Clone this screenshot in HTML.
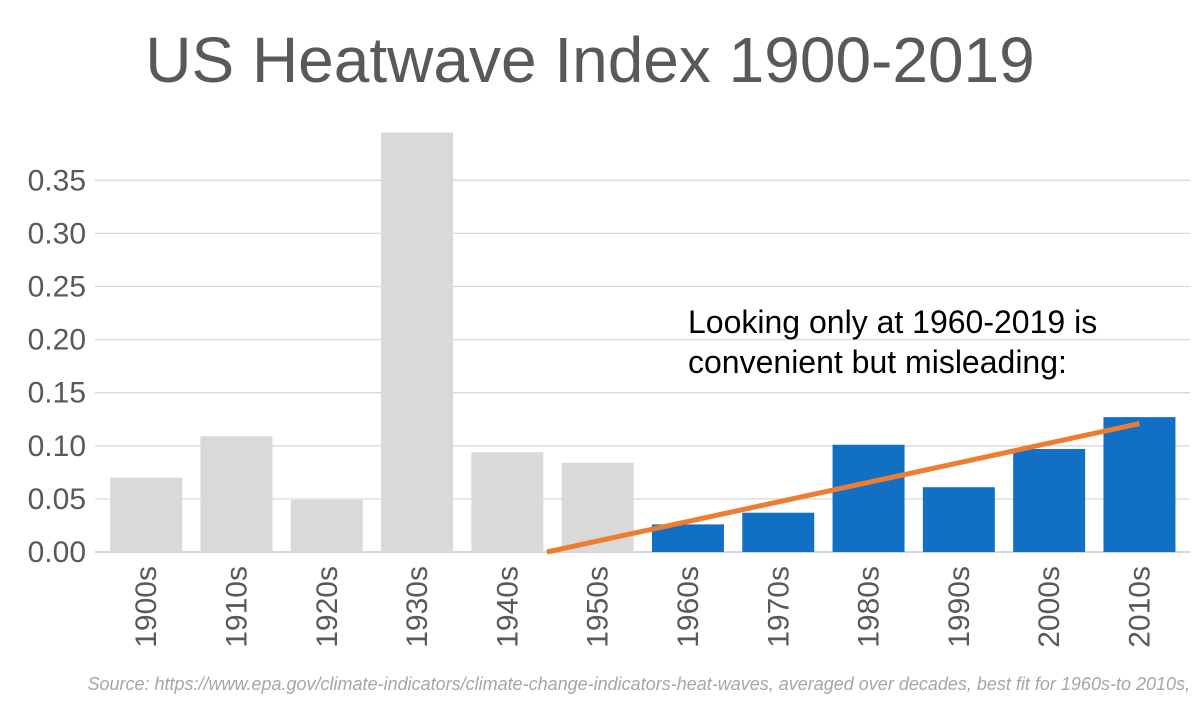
<!DOCTYPE html>
<html><head><meta charset="utf-8"><style>
html,body{margin:0;padding:0;background:#fff;}
svg{display:block;font-family:"Liberation Sans",Calibri,sans-serif;}
</style></head><body>
<svg id="chart" width="1200" height="710">
<text x="590" y="82" text-anchor="middle" font-size="64" fill="#595959">US Heatwave Index 1900-2019</text>
<g id="grid"></g><g id="bars"></g><g id="ylabels"></g><g id="xlabels"></g><g id="trend"></g>
<text x="688" y="333" font-size="32" fill="#000">Looking only at 1960-2019 is</text>
<text x="688" y="373" font-size="32" fill="#000">convenient but misleading:</text>
<text x="1190" y="690" text-anchor="end" font-size="18" font-style="italic" fill="#a6a6a6">Source: https://www.epa.gov/climate-indicators/climate-change-indicators-heat-waves, averaged over decades, best fit for 1960s-to 2010s,</text>
</svg>
<script>
const categories=["1900s","1910s","1920s","1930s","1940s","1950s","1960s","1970s","1980s","1990s","2000s","2010s"];
const values=[0.070,0.109,0.049,0.395,0.094,0.084,0.026,0.037,0.101,0.061,0.097,0.127];
const highlightStart=6;
const yTicks=[0,0.05,0.10,0.15,0.20,0.25,0.30,0.35];
const yTickLabels=["0.00","0.05","0.10","0.15","0.20","0.25","0.30","0.35"];
const NS="http://www.w3.org/2000/svg";
const plotL=95,plotR=1190,y0=552,pxPerUnit=1062,catW=90.3,catStart=101,barW=72;
const y=v=>y0-v*pxPerUnit;
const xc=i=>catStart+catW*(i+0.5);
function mk(tag,parent,attrs){const e=document.createElementNS(NS,tag);for(const k in attrs)e.setAttribute(k,attrs[k]);document.getElementById(parent).appendChild(e);return e;}
yTicks.forEach((t,i)=>{
  const l=mk('line','grid',{x1:plotL,x2:plotR,y1:y(t),y2:y(t),stroke:i==0?'#bfbfbf':'#d9d9d9','stroke-width':1.3});
  
  
  const tx=mk('text','ylabels',{x:86,y:y(t)+10,'text-anchor':'end','font-size':30,fill:'#595959'});
  tx.textContent=yTickLabels[i];
  
  
});
values.forEach((v,i)=>{
  const r=mk('rect','bars',{x:xc(i)-barW/2,y:y(v),width:barW,height:v*pxPerUnit,fill:i>=highlightStart?'#1170c4':'#d9d9d9'});
  
  
  const tx=mk('text','xlabels',{x:0,y:0,'text-anchor':'end','font-size':30,fill:'#595959',transform:`translate(${xc(i)+10},566) rotate(-90)`});
  tx.textContent=categories[i];
  
  
});
const hv=values.slice(highlightStart);const n=hv.length;
const mx=(n-1)/2,my=hv.reduce((a,b)=>a+b,0)/n;
let num=0,den=0;hv.forEach((v,i)=>{num+=(i-mx)*(v-my);den+=(i-mx)*(i-mx);});
const slope=num/den,icpt=my-slope*mx;
const xStart=-icpt/slope;
const toX=k=>xc(highlightStart)+k*catW;
const tl=mk('line','trend',{x1:toX(xStart),y1:y(0),x2:toX(n-1),y2:y(icpt+slope*(n-1)),stroke:'#ed7d31','stroke-width':5});


</script>
</body></html>
